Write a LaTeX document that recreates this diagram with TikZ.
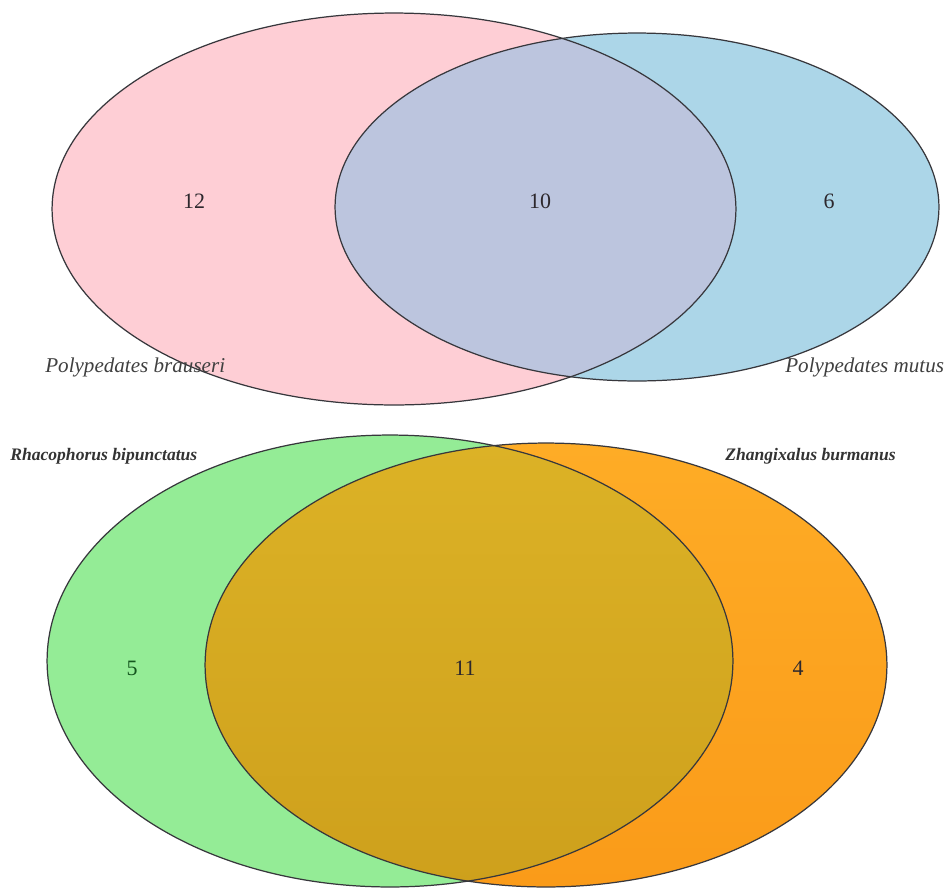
\documentclass[tikz,border=0pt]{standalone}
\usepackage{fontspec}
\setmainfont{Liberation Serif}
\definecolor{pinkfill}{RGB}{254,206,213}
\definecolor{bluefill}{RGB}{172,214,232}
\definecolor{topover}{RGB}{188,197,222}
\definecolor{greenfill}{RGB}{148,236,150}
\definecolor{orangetop}{RGB}{254,172,38}
\definecolor{orangebot}{RGB}{250,155,25}
\definecolor{overtop}{RGB}{220,178,38}
\definecolor{overbot}{RGB}{206,160,28}
\definecolor{edgecol}{RGB}{55,55,60}
\definecolor{numcol}{RGB}{45,40,45}
\tikzset{
  vennedge/.style={draw=edgecol, line width=0.7pt},
  numlabel/.style={font=\fontsize{12.5}{14}\selectfont, text=numcol, inner sep=0pt},
  toplabel/.style={font=\fontsize{12}{14}\selectfont\itshape, text=black!75, inner sep=0pt, anchor=base west},
  botlabel/.style={font=\fontsize{10}{12}\selectfont\bfseries\itshape, text=black!80, inner sep=0pt, anchor=base west},
}
\begin{document}
\begin{tikzpicture}[x=0.02cm,y=-0.02cm]
\fill[white] (0,0) rectangle (947,890);
\useasboundingbox (0,0) rectangle (947,890);
% ---------- top Venn ----------
\def\pinkE{(394,209) ellipse [x radius=6.84cm, y radius=3.92cm]}
\def\blueE{(637,207) ellipse [x radius=6.04cm, y radius=3.48cm]}
\fill[pinkfill] \pinkE;
\fill[bluefill] \blueE;
\begin{scope}
  \clip \pinkE;
  \fill[topover] \blueE;
\end{scope}
\draw[vennedge] \pinkE;
\draw[vennedge] \blueE;
\node[numlabel] (n12) at (194,201) {12};
\node[numlabel] (n10) at (540,201) {10};
\node[numlabel] (n6) at (829,201) {6};
\node[toplabel] (lbrau) at (45,372) {Polypedates brauseri};
\node[toplabel] (lmutus) at (785,372) {Polypedates mutus};
% ---------- bottom Venn ----------
\def\greenE{(390,661) ellipse [x radius=6.86cm, y radius=4.52cm]}
\def\orangeE{(546,665) ellipse [x radius=6.82cm, y radius=4.44cm]}
\fill[greenfill] \greenE;
\shade[top color=orangetop, bottom color=orangebot] \orangeE;
\begin{scope}
  \clip \greenE;
  \shade[top color=overtop, bottom color=overbot] \orangeE;
\end{scope}
\draw[vennedge] \greenE;
\draw[vennedge] \orangeE;
\node[numlabel, text={rgb,255:red,20;green,85;blue,30}] (n5) at (132,668) {5};
\node[numlabel] (n11) at (465,668) {11};
\node[numlabel] (n4) at (798,668) {4};
\node[botlabel] (lrhaco) at (10,460) {Rhacophorus bipunctatus};
\node[botlabel] (lzhang) at (725,460) {Zhangixalus burmanus};
\end{tikzpicture}
\end{document}
